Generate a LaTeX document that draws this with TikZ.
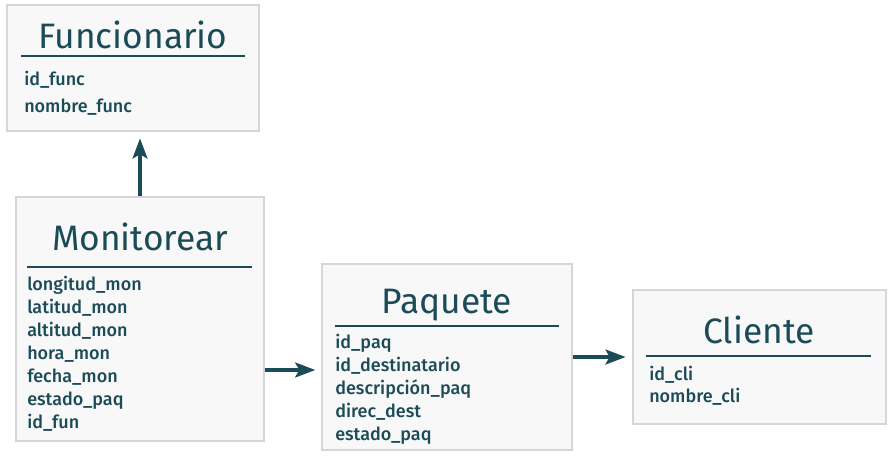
\documentclass[tikz,border=0pt]{standalone}
\usepackage{fontspec}
\setmainfont{Fira Sans}
\newfontfamily\attrfont{Fira Sans Medium}
\usetikzlibrary{arrows.meta}
\definecolor{ink}{HTML}{1A4B57}
\definecolor{boxfill}{HTML}{F8F8F8}
\tikzset{
	entity/.style={draw=black!16, line width=1pt, fill=boxfill, inner sep=0pt},
	title/.style={text=ink, anchor=base, inner sep=0pt, font=\fontsize{26.5}{30}\selectfont},
	attr/.style={text=ink, anchor=base west, inner sep=0pt, font=\attrfont\fontsize{13.5}{15}\selectfont},
	rule/.style={draw=ink, line width=0.9pt},
	link/.style={draw=ink, line width=3pt, -{Stealth[length=15pt,width=11pt,inset=3pt]}}
}

\begin{document}
\begin{tikzpicture}[x=0.75pt,y=-0.75pt]
	\useasboundingbox (0,0) rectangle (892,458);

	% Funcionario
	\node[entity, minimum width=189pt, minimum height=94.5pt] at (133,68)(func){};
	\node[title] at (133,48)(funct){Funcionario};
	\draw[rule] (21,56) -- (245,56);
	\foreach \a [count=\i from 0] in {id\_func, nombre\_func}
		\node[attr] at (24,85+27*\i){\a};

	% Monitorear
	\node[entity, minimum width=186pt, minimum height=183pt] at (140,319)(moni){};
	\node[title] at (140,250)(monit){Monitorear};
	\draw[rule] (27,267) -- (252,267);
	\foreach \a [count=\i from 0] in {longitud\_mon, latitud\_mon, altitud\_mon, hora\_mon, fecha\_mon, estado\_paq, id\_fun}
		\node[attr] at (27,290+23*\i){\a};

	% Paquete
	\node[entity, minimum width=187.5pt, minimum height=139.5pt] at (447,357)(paq){};
	\node[title] at (447,313)(paqt){Paquete};
	\draw[rule] (335,326) -- (559,326);
	\foreach \a [count=\i from 0] in {id\_paq, id\_destinatario, descripción\_paq, direc\_dest, estado\_paq}
		\node[attr] at (335,348+23*\i){\a};

	% Cliente
	\node[entity, minimum width=189.75pt, minimum height=100.5pt] at (759.5,357)(cli){};
	\node[title] at (759,343)(clit){Cliente};
	\draw[rule] (646,356) -- (871,356);
	\foreach \a [count=\i from 0] in {id\_cli, nombre\_cli}
		\node[attr] at (649,380+22.5*\i){\a};

	% relaciones
	\draw[link, shorten >=5pt] (moni.north) -- (moni.north |- func.south);
	\draw[link, shorten >=4.5pt] ([yshift=-38.25pt]moni.east) -- ([yshift=-9.75pt]paq.west);
	\draw[link, shorten >=5pt] (paq.east) -- (cli.west);
\end{tikzpicture}
\end{document}
